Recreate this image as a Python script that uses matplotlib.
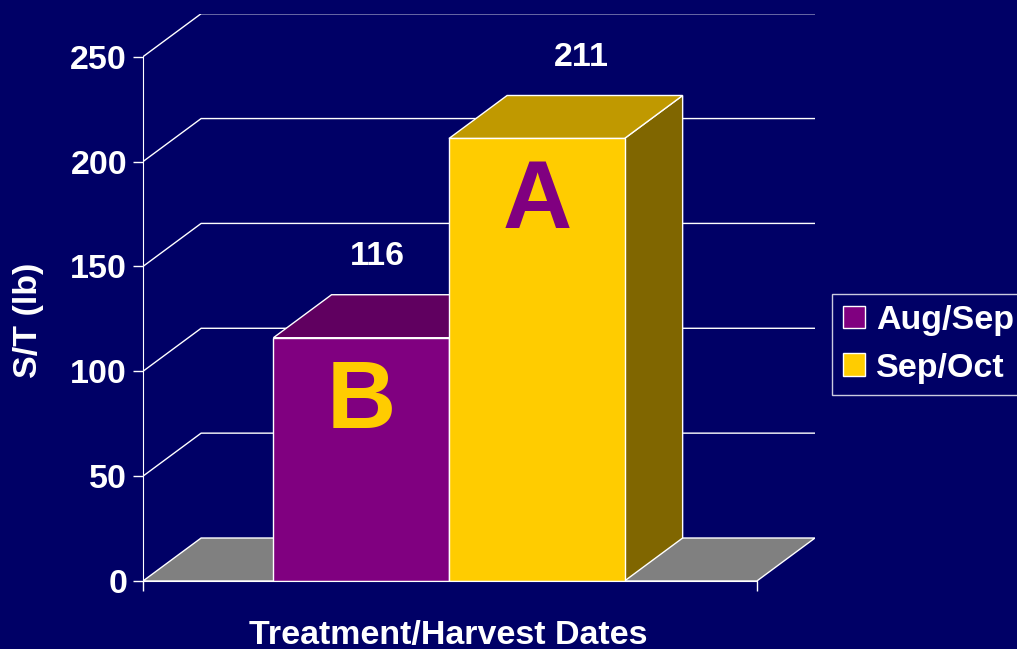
import matplotlib
matplotlib.use('agg')
import matplotlib.pyplot as plt
from matplotlib.patches import Polygon, Patch

# data
categories = ['Aug/Sep', 'Sep/Oct']
values = [116, 211]
letters = ['B', 'A']
yticks = [0, 50, 100, 150, 200, 250]

bg = '#000066'
front_colors = ['#800080', '#FFCC00']
top_colors = ['#600060', '#C09900']
side_colors = ['#600060', '#806600']
letter_colors = ['#FFCC00', '#800080']
floor_color = '#808080'

plt.rcParams['font.family'] = ['Liberation Sans', 'DejaVu Sans']
plt.rcParams['font.weight'] = 'bold'
fs = 24.5

fig = plt.figure(figsize=(10.17, 6.49), dpi=100, facecolor=bg)

# axes box in pixels: front plane left 143, back wall right 815, zero at 581, top ~13.7
W, H = 1017, 649
ax = fig.add_axes([143 / W, (H - 581) / H, (815 - 143) / W, (581 - 13.7) / H])
ax.set_facecolor(bg)

# depth of the fake 3d
ddx = 0.331
ddy = 20.5
x0 = -1.243
x1 = 2.254
ax.set_xlim(x0, x1 + ddx)
ax.set_ylim(0, 250 + ddy)

ec = 'white'
lw = 1.0

# floor
ax.add_patch(Polygon([(x0, 0), (x1, 0), (x1 + ddx, ddy), (x0 + ddx, ddy)],
                     closed=True, facecolor=floor_color, edgecolor=ec, lw=lw, zorder=1))

# gridlines on side and back walls
for v in yticks[1:]:
    ax.plot([x0, x0 + ddx, x1 + ddx], [v, v + ddy, v + ddy], color=ec, lw=lw, zorder=1)

# bars
w = 1.0
for i, v in enumerate(values):
    l, r = i - w / 2, i + w / 2
    ax.add_patch(Polygon([(r, 0), (r + ddx, ddy), (r + ddx, v + ddy), (r, v)],
                         closed=True, facecolor=side_colors[i], edgecolor=ec, lw=lw, zorder=2 + i))
    ax.add_patch(Polygon([(l, v), (r, v), (r + ddx, v + ddy), (l + ddx, v + ddy)],
                         closed=True, facecolor=top_colors[i], edgecolor=ec, lw=lw, zorder=2 + i))
    ax.add_patch(Polygon([(l, 0), (r, 0), (r, v), (l, v)],
                         closed=True, facecolor=front_colors[i], edgecolor=ec, lw=lw, zorder=2 + i))
    ax.text(i, v - 31, letters[i], color=letter_colors[i], fontsize=69, fontweight='bold',
            ha='center', va='center', zorder=5)

label_dx = [0.094, 0.254]
for i, v in enumerate(values):
    ax.text(i + label_dx[i], v + ddy + 14, str(v), color='white', fontsize=fs,
            ha='center', va='baseline', zorder=5)

# axes
for s in ['top', 'right']:
    ax.spines[s].set_visible(False)
ax.spines['left'].set_bounds(0, 250)
ax.spines['bottom'].set_bounds(x0, x1)
ax.spines['left'].set_color(ec)
ax.spines['bottom'].set_color(ec)
ax.spines['left'].set_zorder(6)
ax.spines['bottom'].set_zorder(6)
ax.set_yticks(yticks)
ax.set_yticklabels([str(t) for t in yticks])
ax.set_xticks([x0, x1])
ax.set_xticklabels([])
ax.tick_params(axis='both', colors='white', length=7, width=1, direction='out')
ax.tick_params(axis='y', labelsize=fs, pad=4.5)

fig.text(28 / W, 1 - 320 / H, 'S/T (lb)', rotation=90, color='white', fontsize=fs,
         ha='center', va='center')
fig.text(448 / W, (H - 644) / H, 'Treatment/Harvest Dates', color='white', fontsize=fs,
         ha='center', va='baseline')

handles = [Patch(facecolor=front_colors[i], edgecolor='white', lw=1) for i in range(2)]
leg = fig.legend(handles, categories, loc='upper left',
                 bbox_to_anchor=(832 / W, 1 - 294 / H), frameon=True, fancybox=False,
                 fontsize=fs, handlelength=0.63, handleheight=0.63, handletextpad=0.34,
                 borderpad=0.33, labelspacing=0.48, borderaxespad=0)
leg.get_frame().set_facecolor(bg)
leg.get_frame().set_edgecolor('white')
leg.get_frame().set_linewidth(1)
for t in leg.get_texts():
    t.set_color('white')

fig.savefig('out.png', dpi=100, facecolor=bg)
